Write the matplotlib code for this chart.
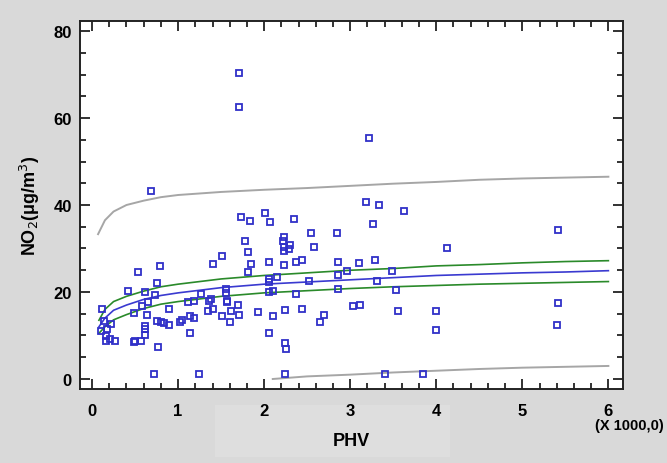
import numpy as np
import matplotlib
matplotlib.use("Agg")
import matplotlib.pyplot as plt
from matplotlib.ticker import MultipleLocator
from matplotlib.patches import Rectangle

plt.rcParams['font.family'] = ['Liberation Sans', 'DejaVu Sans']

# PHV (x 1000) and NO2 observations
phv = [0.11, 0.14, 0.22, 0.10, 0.17, 0.16, 0.16, 0.21, 0.27,
       0.42, 0.49, 0.49, 0.50, 0.53, 0.57, 0.58, 0.62, 0.64, 0.62, 0.62, 0.62, 0.65,
       0.68, 0.72, 0.73, 0.75, 0.77, 0.79, 0.76, 0.80, 0.84, 0.90, 0.90,
       1.02, 1.05, 1.14, 1.14, 1.19, 1.12, 1.18, 1.24, 1.27, 1.36, 1.38, 1.40, 1.35, 1.41,
       1.51, 1.51, 1.56, 1.56, 1.57, 1.57, 1.60, 1.62, 1.70, 1.71, 1.71, 1.71, 1.73,
       1.83, 1.78, 1.81, 1.85, 1.81, 1.93,
       2.01, 2.07, 2.06, 2.06, 2.06, 2.15, 2.06, 2.10, 2.10, 2.06, 2.22, 2.23, 2.23, 2.23,
       2.30, 2.29, 2.23, 2.24, 2.24, 2.25, 2.24, 2.35, 2.37, 2.44, 2.37, 2.44,
       2.54, 2.58, 2.52, 2.69, 2.65, 2.85, 2.86, 2.96, 2.86, 2.86,
       3.10, 3.03, 3.11, 3.18, 3.22, 3.26, 3.29, 3.31, 3.34, 3.40, 3.48, 3.53, 3.55, 3.62,
       3.85, 4.00, 4.00, 4.12, 5.41, 5.41, 5.40]
no2 = [16.2, 13.4, 12.7, 11.1, 11.4, 9.8, 8.7, 9.2, 8.7,
       20.2, 15.2, 8.4, 8.7, 24.5, 8.7, 16.7, 19.9, 14.6, 12.1, 11.6, 10.1, 17.6,
       43.3, 1.1, 19.3, 22.0, 7.4, 26.0, 13.4, 13.2, 12.9, 12.4, 16.2,
       13.0, 13.6, 10.6, 14.4, 14.1, 17.8, 18.0, 1.1, 19.5, 18.0, 18.4, 16.2, 15.6, 26.4,
       28.2, 14.5, 20.7, 19.8, 18.0, 17.6, 13.0, 15.6, 17.0, 14.8, 70.3, 62.5, 37.2,
       36.3, 31.7, 29.3, 26.4, 24.5, 15.3,
       38.2, 36.2, 27.0, 23.1, 22.2, 23.4, 19.9, 20.2, 14.4, 10.6, 31.8, 32.6, 30.3, 29.5,
       30.7, 29.8, 26.1, 15.9, 8.3, 6.9, 1.1, 36.8, 27.0, 27.3, 19.5, 16.2,
       33.5, 30.3, 22.6, 14.8, 13.1, 33.5, 27.0, 24.9, 23.8, 20.8,
       26.7, 16.7, 17.0, 40.7, 55.5, 35.6, 27.4, 22.6, 40.0, 1.1, 24.9, 20.5, 15.6, 38.6,
       1.1, 15.6, 11.2, 30.0, 34.3, 17.4, 12.3]

# fitted model and limits
fit_x = [0.08, 0.15, 0.25, 0.4, 0.6, 0.8, 1.0, 1.5, 2.0, 2.5, 3.0, 3.5, 4.0, 4.5, 5.0, 5.5, 6.0]
fit_y = [12.0, 14.0, 15.8, 17.0, 18.3, 19.2, 19.8, 21.0, 21.8, 22.3, 22.8, 23.3, 23.8, 24.1, 24.4, 24.6, 24.9]
conf_hi = [13.5, 16.0, 17.8, 19.0, 20.2, 21.2, 21.8, 23.0, 23.8, 24.4, 25.0, 25.4, 26.0, 26.3, 26.7, 27.0, 27.2]
conf_lo = [10.5, 12.0, 13.6, 14.8, 16.2, 17.2, 17.8, 19.0, 19.8, 20.3, 20.8, 21.2, 21.5, 21.8, 22.0, 22.2, 22.4]
pred_x = [0.07, 0.15, 0.25, 0.4, 0.6, 0.8, 1.0, 1.5, 2.0, 2.5, 3.0, 3.5, 4.0, 4.5, 5.0, 5.5, 6.0]
pred_hi = [33.3, 36.5, 38.5, 40.0, 41.0, 41.8, 42.3, 43.0, 43.5, 43.9, 44.4, 44.9, 45.3, 45.8, 46.1, 46.3, 46.5]
lo_x = [2.1, 2.5, 3.0, 3.5, 4.0, 4.5, 5.0, 5.5, 6.0]
pred_lo = [0.0, 0.6, 1.0, 1.5, 1.9, 2.3, 2.6, 2.8, 3.0]

fig = plt.figure(figsize=(6.67, 4.64), dpi=100, facecolor='#d9d9d9')
fig.patches.append(Rectangle((215 / 667, 1 - 458 / 464), 235 / 667, 52 / 464,
                             transform=fig.transFigure, facecolor='#dedede',
                             edgecolor='none', zorder=-5))
ax = fig.add_axes([80 / 667, 1 - 390 / 464, 543 / 667, 368 / 464])
ax.set_facecolor('white')

ax.plot(pred_x, pred_hi, color='#a6a6a6', lw=1.4)
ax.plot(lo_x, pred_lo, color='#a6a6a6', lw=1.4)
ax.plot(fit_x, conf_hi, color='#2a8a2a', lw=1.2)
ax.plot(fit_x, conf_lo, color='#2a8a2a', lw=1.2)
ax.plot(fit_x, fit_y, color='#3a3ad0', lw=1.2)
ax.plot(phv, no2, 's', mfc='none', mec='#3030c8', ms=5, mew=1.3, ls='none')

ax.set_xlim(-0.14, 6.17)
ax.set_ylim(-2.3, 82.3)
ax.xaxis.set_major_locator(MultipleLocator(1))
ax.xaxis.set_minor_locator(MultipleLocator(0.2))
ax.yaxis.set_major_locator(MultipleLocator(20))
ax.yaxis.set_minor_locator(MultipleLocator(5))
ax.tick_params(which='both', direction='in', top=True, right=True, width=1.3, color='#222222')
ax.tick_params(which='major', length=7)
ax.tick_params(which='minor', length=4)
ax.tick_params(axis='x', which='major', pad=10, labelsize=12)
ax.tick_params(axis='y', which='major', pad=6, labelsize=12)
for lab in ax.get_xticklabels() + ax.get_yticklabels():
    lab.set_fontweight('bold')
for s in ax.spines.values():
    s.set_linewidth(1.4)
    s.set_color('#222222')

ax.set_xlabel('PHV', fontsize=13, fontweight='bold', labelpad=10)
ax.set_ylabel('NO$_2$(\u03bcg/m$^3$)', fontsize=13, fontweight='bold', labelpad=8)
fig.text(0.995, 1 - 426 / 464, '(X 1000,0)', ha='right', va='center', fontsize=10.5, fontweight='bold')

fig.savefig('out.png', dpi=100, facecolor=fig.get_facecolor())
